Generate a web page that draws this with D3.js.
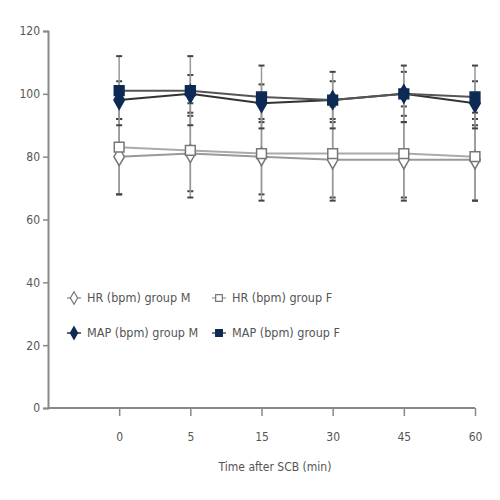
<!DOCTYPE html>
<html><head><meta charset="utf-8">
<script src="https://cdn.jsdelivr.net/npm/d3@7"></script>
<style>body{margin:0;background:#fff}svg{display:block}text{font-family:"DejaVu Sans Condensed","DejaVu Sans",sans-serif;font-stretch:condensed;fill:#555}</style>
</head><body><svg id="c" width="500" height="500"></svg>
<script>
const categories = ["0", "5", "15", "30", "45", "60"];
const yTicks = [0, 20, 40, 60, 80, 100, 120];
const hrM = [80, 81, 80, 79, 79, 79];
const hrM_sd = [12, 12, 12, 12, 12, 13];
const hrF = [83, 82, 81, 81, 81, 80];
const hrF_sd = [15, 15, 15, 15, 15, 14];
const mapM = [98, 100, 97, 98, 100, 97];
const mapM_sd = [6, 6, 6, 6, 7, 7];
const mapF = [101, 101, 99, 98, 100, 99];
const mapF_sd = [11, 11, 10, 9, 9, 10];
const seriesNames = ["HR (bpm) group M", "HR (bpm) group F", "MAP (bpm) group M", "MAP (bpm) group F"];
const xLabel = "Time after SCB (min)";

const series = [
  {name: seriesNames[0], v: hrM, sd: hrM_sd, sym: d3.symbolDiamond, fill: "#fff", stroke: "#777", line: "#999"},
  {name: seriesNames[1], v: hrF, sd: hrF_sd, sym: d3.symbolSquare, fill: "#fff", stroke: "#777", line: "#aaa"},
  {name: seriesNames[2], v: mapM, sd: mapM_sd, sym: d3.symbolDiamond, fill: "#0d2a55", stroke: "#0d2a55", line: "#333"},
  {name: seriesNames[3], v: mapF, sd: mapF_sd, sym: d3.symbolSquare, fill: "#0d2a55", stroke: "#0d2a55", line: "#555"}
];

const svg = d3.select("#c");
const x = d3.scalePoint().domain([""].concat(categories)).range([48, 475]);
const y = d3.scaleLinear().domain([0, 120]).range([408, 31]);

// axes
const gy = svg.append("g").attr("transform", "translate(48,0)")
  .call(d3.axisLeft(y).tickValues(yTicks).tickSize(5).tickPadding(3));
const gx = svg.append("g").attr("transform", "translate(0,408)")
  .call(d3.axisBottom(x).tickValues(categories).tickSize(8).tickPadding(16));
[gy, gx].forEach(g => {
  g.select(".domain").attr("stroke", "#888").attr("stroke-width", 2);
  g.selectAll(".tick line").attr("stroke", "#888").attr("stroke-width", 1.5);
  g.selectAll("text").style("font-size", "12px").attr("fill", "#555");
});
gx.select(".domain").attr("d", "M48,0H475");
svg.append("text").attr("x", 275).attr("y", 471).attr("text-anchor", "middle")
  .style("font-size", "12px").text(xLabel);

// lines
series.forEach(s => {
  const line = d3.line().x((d, i) => x(categories[i])).y(d => y(d));
  svg.append("path").attr("d", line(s.v)).attr("fill", "none")
    .attr("stroke", s.line).attr("stroke-width", 2);
});
// error bars
series.forEach(s => {
  s.v.forEach((d, i) => {
    const cx = x(categories[i]);
    svg.append("line").attr("x1", cx).attr("x2", cx).attr("y1", y(d + s.sd[i])).attr("y2", y(d - s.sd[i]))
      .attr("stroke", "#999").attr("stroke-width", 1.5);
    [d + s.sd[i], d - s.sd[i]].forEach(e => {
      svg.append("line").attr("x1", cx - 3).attr("x2", cx + 3).attr("y1", y(e)).attr("y2", y(e))
        .attr("stroke", "#444").attr("stroke-width", 2);
    });
  });
});
// markers
series.forEach(s => {
  s.v.forEach((d, i) => {
    svg.append("path").attr("d", d3.symbol().type(s.sym).size(s.sym === d3.symbolSquare ? 95 : 95)())
      .attr("transform", `translate(${x(categories[i])},${y(d)})`)
      .attr("fill", s.fill).attr("stroke", s.stroke).attr("stroke-width", 1.5);
  });
});
// legend
const lg = [[67, 298], [212, 298], [67, 333], [212, 333]];
series.forEach((s, k) => {
  const [lx, ly] = lg[k];
  svg.append("line").attr("x1", lx).attr("x2", lx + 14).attr("y1", ly).attr("y2", ly)
    .attr("stroke", s.line).attr("stroke-width", 1.5);
  svg.append("path").attr("d", d3.symbol().type(s.sym).size(45)())
    .attr("transform", `translate(${lx + 7},${ly})`)
    .attr("fill", s.fill).attr("stroke", s.stroke).attr("stroke-width", 1.2);
  svg.append("text").attr("x", lx + 20).attr("y", ly + 4).style("font-size", "12.5px").text(s.name);
});
</script></body></html>
